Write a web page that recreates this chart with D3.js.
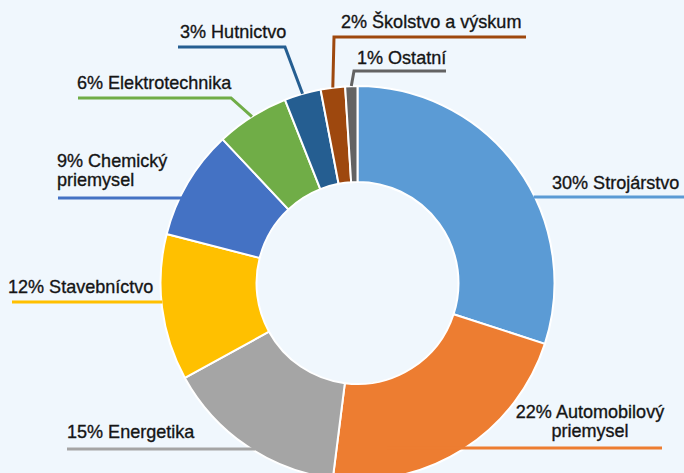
<!DOCTYPE html>
<html>
<head>
<meta charset="utf-8">
<script src="https://cdn.jsdelivr.net/npm/d3@7"></script>
<style>
  html, body { margin: 0; padding: 0; background: #f0f7fd; }
  svg { display: block; }
</style>
</head>
<body>
<div id="chart"></div>
<script>
// data
const categories = ["Strojárstvo", "Automobilový priemysel", "Energetika", "Stavebníctvo",
  "Chemický priemysel", "Elektrotechnika", "Hutnictvo", "Školstvo a výskum", "Ostatní"];
const values = [30, 22, 15, 12, 9, 6, 3, 2, 1];
const labelLines = [
  ["30% Strojárstvo"],
  ["22% Automobilový", "priemysel"],
  ["15% Energetika"],
  ["12% Stavebníctvo"],
  ["9% Chemický", "priemysel"],
  ["6% Elektrotechnika"],
  ["3% Hutnictvo"],
  ["2% Školstvo a výskum"],
  ["1% Ostatní"]
];
const colors = ["#5b9bd5", "#ed7d31", "#a5a5a5", "#ffc000", "#4472c4",
  "#70ad47", "#255e91", "#9e480e", "#636363"];

// layout
const width = 684, height = 473;
const cx = 357.5, cy = 283;
const outerR = 197, innerR = 101;
const fontSize = 19, squeeze = 0.95, lineGap = 18.5;

// label layout: text x / baseline y, anchor, leader line y, far end x,
// and either an elbow to the slice mid-angle or a straight line to radius r
const labelLayout = [
  { x: 552, y: 189, anchor: "start", lineY: 197, x0: 684, r: 196, side: 1 },
  { x: 590, y: 418, anchor: "middle", lineY: 448, x0: 662, x1: 387 },
  { x: 67, y: 438, anchor: "start", lineY: 449, x0: 67, r: 195, side: -1 },
  { x: 8, y: 293, anchor: "start", lineY: 302, x0: 12, r: 196, side: -1 },
  { x: 57, y: 167, anchor: "start", lineY: 198, x0: 58, r: 188, side: -1 },
  { x: 77, y: 89, anchor: "start", lineY: 98, x0: 78, elbowX: 231 },
  { x: 180, y: 38, anchor: "start", lineY: 47, x0: 178, elbowX: 285 },
  { x: 341, y: 28, anchor: "start", lineY: 37, x0: 526, elbowX: 334 },
  { x: 357, y: 64, anchor: "start", lineY: 71, x0: 446, elbowX: 354 }
];

const svg = d3.select("#chart")
  .append("svg")
    .attr("width", width)
    .attr("height", height);

svg.append("rect")
  .attr("width", width)
  .attr("height", height)
  .attr("fill", "#f0f7fd");

const pie = d3.pie().sort(null).value(d => d);
const arcs = pie(values);

const arc = d3.arc()
  .innerRadius(innerR)
  .outerRadius(outerR);

const g = svg.append("g")
  .attr("transform", `translate(${cx},${cy})`);

g.selectAll("path.slice")
  .data(arcs)
  .join("path")
    .attr("class", "slice")
    .attr("d", arc)
    .attr("fill", (d, i) => colors[i])
    .attr("stroke", "#ffffff")
    .attr("stroke-width", 2)
    .attr("stroke-linejoin", "round");

// leader lines
function leaderPoints(d, i) {
  const L = labelLayout[i];
  if (L.elbowX !== undefined) {
    const a = (d.startAngle + d.endAngle) / 2;
    const ax = cx + outerR * Math.sin(a);
    const ay = cy - outerR * Math.cos(a);
    return [[L.x0, L.lineY], [L.elbowX, L.lineY], [ax, ay]];
  }
  if (L.r !== undefined) {
    const dy = L.lineY - cy;
    const ex = cx + L.side * Math.sqrt(L.r * L.r - dy * dy);
    return [[L.x0, L.lineY], [ex, L.lineY]];
  }
  return [[L.x0, L.lineY], [L.x1, L.lineY]];
}

svg.selectAll("path.leader")
  .data(arcs)
  .join("path")
    .attr("class", "leader")
    .attr("d", (d, i) => d3.line()(leaderPoints(d, i)))
    .attr("fill", "none")
    .attr("stroke", (d, i) => colors[i])
    .attr("stroke-width", 3);

// labels (one text per line, slightly condensed)
labelLines.forEach((lines, i) => {
  const L = labelLayout[i];
  lines.forEach((s, k) => {
    svg.append("text")
      .attr("class", "label")
      .attr("transform", `translate(${L.x},${L.y + k * lineGap}) scale(${squeeze},1)`)
      .attr("text-anchor", L.anchor)
      .style("font-family", "'Liberation Sans', Arial, sans-serif")
      .style("font-size", fontSize + "px")
      .style("fill", "#151515")
      .style("stroke", "#151515")
      .style("stroke-width", 0.35)
      .text(s);
  });
});
</script>
</body>
</html>
